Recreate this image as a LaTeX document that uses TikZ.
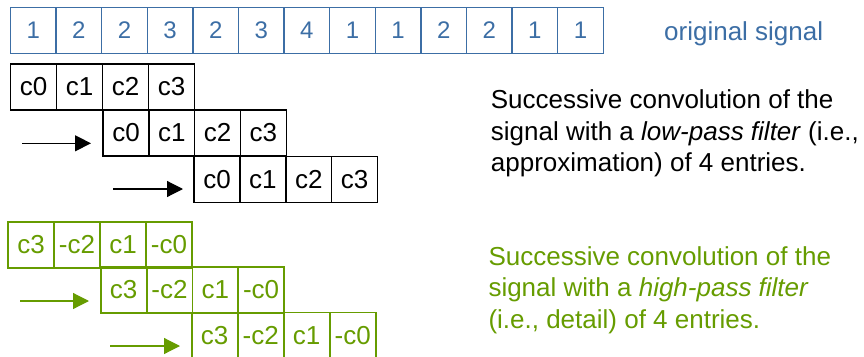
\documentclass[tikz,border=0pt]{standalone}
\usepackage{fontspec}
\setmainfont{Liberation Sans}
\usetikzlibrary{arrows.meta}
\definecolor{sigblue}{HTML}{3C6EA5}
\definecolor{hpgreen}{HTML}{669C00}
\begin{document}
\begin{tikzpicture}[x=1pt,y=-1pt,
  cellbase/.style={draw,inner sep=0pt,outer sep=0pt,anchor=north west,
    minimum height=46pt,line width=1.3pt,font=\fontsize{26}{30}\selectfont},
  sigcell/.style={cellbase,draw=sigblue,text=sigblue,minimum width=45.6pt,
    font=\fontsize{24}{28}\selectfont},
  lpcell/.style={cellbase,draw=black,text=black,minimum width=46pt},
  hpcell/.style={cellbase,draw=hpgreen,text=hpgreen,minimum width=46pt,line width=1.6pt},
  shiftarrow/.style={line width=1.2pt,-{Triangle[length=16pt,width=16pt]}},
  caption/.style={anchor=base west,align=left,inner sep=0pt,
    font=\fontsize{26}{31.6}\selectfont}]
\useasboundingbox (0,0) rectangle (864,356);

% original signal
\foreach \v [count=\i from 0] in {1,2,2,3,2,3,4,1,1,2,2,1,1}
  \node[sigcell] (s\i) at ({10.5+45.6*\i},7.3) {\v};
\node[caption,text=sigblue] (sigtxt) at (664,40) {original signal};

% low-pass filter positions
\foreach \v [count=\i from 0] in {c0,c1,c2,c3}
  \node[lpcell] (la\i) at ({10.7+46*\i},64) {\v};
\foreach \v [count=\i from 0] in {c0,c1,c2,c3}
  \node[lpcell] (lb\i) at ({103+45.8*\i},110) {\v};
\foreach \v [count=\i from 0] in {c0,c1,c2,c3}
  \node[lpcell] (lc\i) at ({194+45.9*\i},156.7) {\v};

\coordinate (la-a) at (22,143.3);  \coordinate (la-b) at (91,143.3);
\coordinate (lb-a) at (113,189);   \coordinate (lb-b) at (183,189);
\draw[shiftarrow] (la-a) -- (la-b);
\draw[shiftarrow] (lb-a) -- (lb-b);

% multi-line captions: the base anchor sits on the last line
\node[caption] (lptxt) at (490.7,171.6)
  {Successive convolution of the\\
   signal with a \textit{low-pass filter} (i.e.,\\
   approximation) of 4 entries.};

% high-pass filter positions
\foreach \v [count=\i from 0] in {c3,-c2,c1,-c0}
  \node[hpcell] (ha\i) at ({8+46*\i},221.7) {\v};
\foreach \v [count=\i from 0] in {c3,-c2,c1,-c0}
  \node[hpcell] (hb\i) at ({100.7+45.8*\i},266.7) {\v};
\foreach \v [count=\i from 0] in {c3,-c2,c1,-c0}
  \node[hpcell] (hc\i) at ({191.7+46*\i},312.3) {\v};

\coordinate (ha-a) at (20,301);   \coordinate (ha-b) at (89,301);
\coordinate (hb-a) at (110,346);  \coordinate (hb-b) at (180,346);
\draw[shiftarrow,draw=hpgreen,fill=hpgreen] (ha-a) -- (ha-b);
\draw[shiftarrow,draw=hpgreen,fill=hpgreen] (hb-a) -- (hb-b);

\node[caption,text=hpgreen] (hptxt) at (488.3,328.3)
  {Successive convolution of the\\
   signal with a \textit{high-pass filter}\\
   (i.e., detail) of 4 entries.};
\end{tikzpicture}
\end{document}
